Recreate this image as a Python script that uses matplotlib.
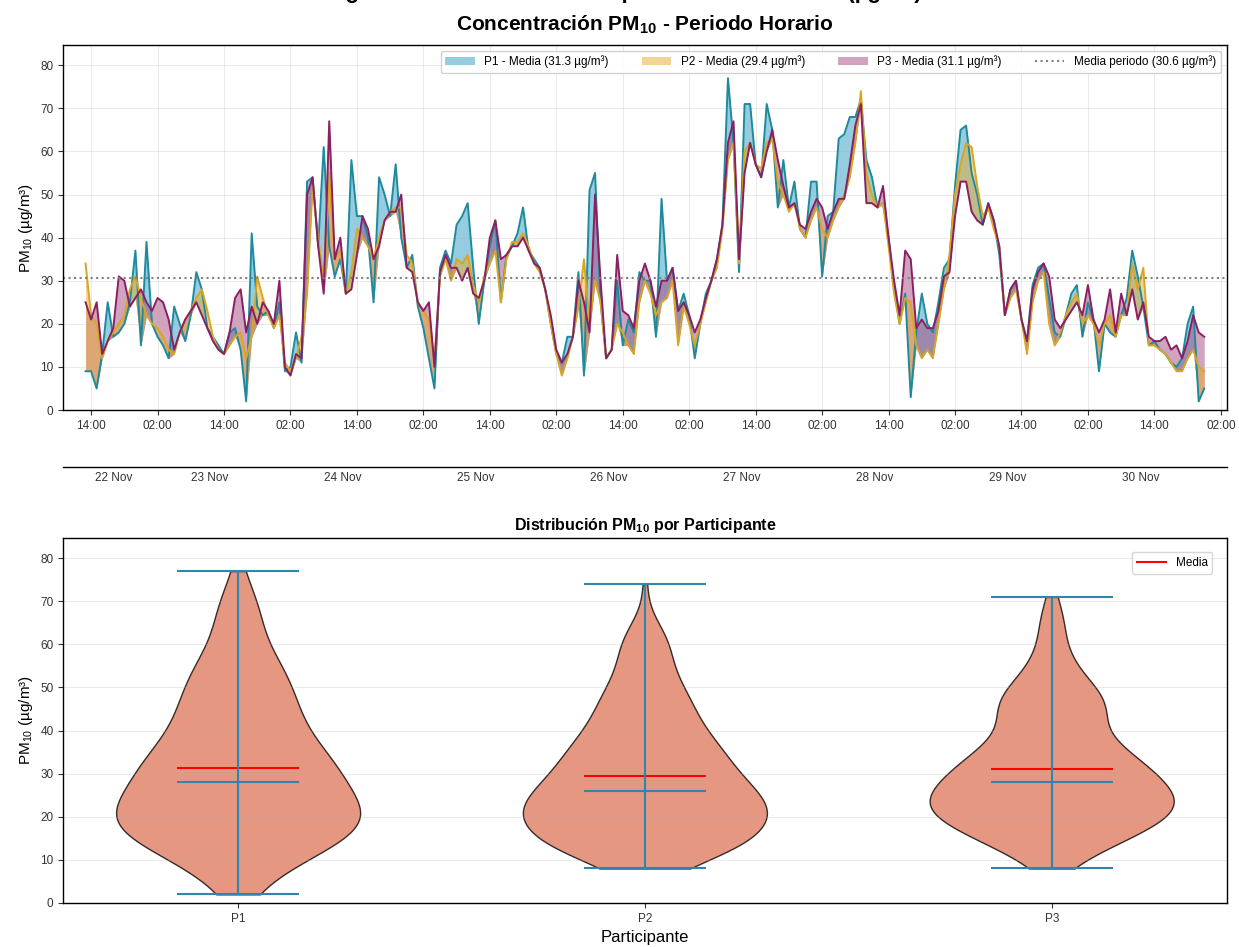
import numpy as np
import pandas as pd
import matplotlib
matplotlib.use('Agg')
import matplotlib.pyplot as plt
import matplotlib.dates as mdates
from matplotlib.patches import Patch
from matplotlib.lines import Line2D

# ---------------------- style ----------------------
plt.rcParams['font.family'] = ['Liberation Sans', 'DejaVu Sans']
plt.rcParams['mathtext.fontset'] = 'custom'
plt.rcParams['mathtext.rm'] = 'Liberation Sans'
plt.rcParams['mathtext.it'] = 'Liberation Sans:italic'
plt.rcParams['mathtext.bf'] = 'Liberation Sans:bold'
plt.rcParams['mathtext.default'] = 'regular'
plt.rcParams['axes.linewidth'] = 1.0

# ---------------------- data (hourly, from 22 Nov 13:00) ----------------------
START = '2023-11-22 13:00'
PARTICIPANTS = ['P1', 'P2', 'P3']

P1 = [9, 9, 5, 13, 25, 17, 18, 20, 25, 37, 15, 39,
      20, 17, 15, 12, 24, 20, 16, 22, 32, 28, 19, 17,
      15, 13, 18, 19, 14, 2, 41, 24, 22, 23, 19, 25,
      9, 10, 18, 11, 53, 54, 38, 61, 38, 31, 35, 27,
      58, 45, 45, 40, 25, 54, 50, 45, 57, 40, 33, 36,
      24, 19, 12, 5, 33, 37, 34, 43, 45, 48, 33, 20,
      30, 38, 44, 25, 36, 38, 41, 47, 37, 35, 33, 28,
      20, 13, 11, 17, 17, 32, 8, 51, 55, 25, 12, 14,
      30, 15, 21, 18, 32, 30, 30, 17, 49, 30, 33, 23,
      27, 22, 12, 20, 27, 30, 35, 43, 77, 62, 32, 71,
      71, 57, 54, 71, 65, 47, 58, 47, 53, 42, 40, 53,
      53, 31, 45, 46, 63, 64, 68, 68, 72, 58, 54, 47,
      48, 40, 28, 20, 27, 3, 18, 27, 20, 18, 25, 33,
      35, 52, 65, 66, 55, 50, 43, 48, 44, 36, 22, 28,
      30, 21, 16, 29, 33, 34, 26, 18, 17, 22, 27, 29,
      17, 25, 21, 9, 20, 18, 17, 22, 26, 37, 31, 24,
      15, 16, 14, 13, 11, 10, 12, 20, 24, 2, 5]

P2 = [34, 22, 20, 12, 16, 18, 20, 22, 28, 31, 26, 22,
      20, 19, 17, 14, 13, 18, 21, 23, 26, 28, 23, 17,
      14, 13, 15, 17, 18, 12, 17, 31, 26, 22, 19, 22,
      11, 9, 12, 17, 27, 52, 40, 30, 55, 35, 37, 27,
      32, 42, 40, 38, 35, 40, 44, 46, 47, 47, 36, 34,
      25, 23, 21, 12, 31, 35, 30, 35, 34, 36, 29, 25,
      31, 34, 37, 25, 35, 39, 39, 41, 38, 34, 32, 28,
      20, 13, 8, 12, 17, 24, 35, 20, 30, 25, 12, 14,
      20, 18, 15, 13, 25, 30, 27, 22, 25, 26, 30, 15,
      24, 20, 15, 20, 25, 30, 33, 42, 58, 62, 34, 60,
      62, 57, 56, 62, 63, 53, 50, 46, 48, 42, 40, 44,
      47, 42, 40, 44, 47, 50, 54, 62, 74, 55, 50, 47,
      48, 38, 27, 20, 26, 25, 15, 12, 14, 12, 20, 28,
      36, 50, 57, 62, 61, 52, 45, 47, 42, 38, 22, 26,
      28, 21, 13, 25, 30, 32, 20, 15, 18, 22, 25, 27,
      20, 22, 20, 15, 20, 22, 17, 22, 22, 34, 28, 33,
      15, 15, 14, 13, 11, 9, 9, 12, 14, 10, 9]

P3 = [25, 21, 25, 13, 16, 19, 31, 30, 24, 26, 28, 25,
      23, 26, 25, 21, 14, 18, 21, 23, 25, 22, 19, 16,
      14, 13, 18, 26, 28, 18, 24, 20, 25, 23, 20, 30,
      10, 8, 13, 12, 50, 54, 38, 27, 67, 35, 40, 27,
      28, 36, 45, 42, 35, 38, 44, 46, 46, 50, 33, 32,
      25, 23, 25, 10, 32, 36, 33, 33, 30, 33, 27, 26,
      30, 40, 44, 35, 36, 38, 38, 40, 37, 34, 33, 28,
      22, 14, 11, 13, 17, 30, 25, 18, 50, 30, 12, 14,
      36, 23, 22, 19, 30, 34, 30, 24, 30, 30, 33, 23,
      25, 22, 18, 21, 26, 30, 35, 43, 62, 67, 35, 55,
      62, 57, 54, 60, 65, 58, 52, 47, 48, 43, 42, 46,
      49, 47, 42, 46, 49, 49, 57, 66, 71, 48, 48, 47,
      52, 40, 30, 22, 37, 35, 19, 21, 19, 19, 23, 31,
      32, 45, 53, 53, 46, 44, 43, 48, 44, 38, 22, 28,
      30, 21, 16, 28, 32, 34, 31, 21, 19, 21, 23, 25,
      22, 29, 21, 18, 21, 28, 18, 27, 22, 28, 21, 25,
      17, 16, 16, 17, 14, 15, 12, 16, 22, 18, 17]

SUPTITLE = 'Registro de PM10 durante el periodo de muestreo (µg/m³)'

fill_colors = {'P1': '#2E9BC0', 'P2': '#EBAA2A', 'P3': '#A6487E'}
line_colors = {'P1': '#1E8A9E', 'P2': '#D8A623', 'P3': '#8A1F63'}
FILL_ORDER = ['P1', 'P3', 'P2']

t = pd.date_range(START, periods=len(P1), freq='h')
df = pd.DataFrame({'P1': P1, 'P2': P2, 'P3': P3}, index=t)
means = df.mean()
overall = df.values.mean()
ymax = df.values.max() * 1.1

fig = plt.figure(figsize=(12.39, 9.47), dpi=100)
ax1 = fig.add_axes([0.051, 0.567, 0.939, 0.3855])
ax2 = fig.add_axes([0.051, 0.0465, 0.939, 0.3855])

# overall title sits above the canvas (only descenders visible), as in the source image
fig.text(0.5, 1.0 + 1.5 / 947, SUPTITLE, ha='center', va='baseline',
         fontsize=16, fontweight='bold')

# ---------------------- time series ----------------------
lower = df.min(axis=1)
for p in FILL_ORDER:
    ax1.fill_between(t, lower, df[p], color=fill_colors[p], alpha=0.5, linewidth=0)
for p in PARTICIPANTS:
    ax1.plot(t, df[p], color=line_colors[p], linewidth=1.4)

handles = [Patch(facecolor=fill_colors[p], alpha=0.5,
                 label=f'{p} - Media ({means[p]:.1f} µg/m³)') for p in PARTICIPANTS]
ax1.axhline(overall, color='gray', linestyle=':', linewidth=1.5)
handles.append(Line2D([], [], color='gray', linestyle=':', linewidth=1.5,
                      label=f'Media periodo ({overall:.1f} µg/m³)'))

ax1.set_title('Concentración PM$_{10}$ - Periodo Horario', fontsize=15,
              fontweight='bold', pad=10)
ax1.set_ylabel('PM$_{10}$ (µg/m³)', fontsize=11)
ax1.set_ylim(0, ymax)
ax1.margins(x=0.02)
ax1.set_yticks(np.arange(0, 81, 10))
ax1.xaxis.set_major_locator(mdates.HourLocator(byhour=[2, 14]))
ax1.xaxis.set_major_formatter(mdates.DateFormatter('%H:%M'))
ax1.tick_params(labelsize=8.5, colors='#333333')
ax1.grid(True, alpha=0.3, linewidth=0.6)
ax1.legend(handles=handles, loc='upper right', ncol=4, fontsize=8.5,
           framealpha=0.9, handlelength=2.5, columnspacing=2.8)

# day labels on a second axis below
nums = mdates.date2num(t)
day_mid = pd.Series(nums).groupby(t.normalize()).mean()
sec = ax1.secondary_xaxis(-0.155)
sec.set_xticks(day_mid.values, labels=[d.strftime('%d %b') for d in day_mid.index])
sec.tick_params(length=0, labelsize=8.5, colors='#333333', pad=4)

# ---------------------- violins ----------------------
data = [df[p].values for p in PARTICIPANTS]
parts = ax2.violinplot(data, positions=[1, 2, 3], widths=0.6,
                       showmeans=True, showmedians=True, showextrema=True)
for pc in parts['bodies']:
    pc.set_facecolor('#E07A5F')
    pc.set_edgecolor('black')
    pc.set_alpha(0.78)
for key in ['cbars', 'cmins', 'cmaxes', 'cmedians']:
    parts[key].set_color('#2E86AB')
    parts[key].set_linewidth(1.5)
parts['cmeans'].set_color('red')
parts['cmeans'].set_linewidth(1.5)

ax2.set_xticks([1, 2, 3], PARTICIPANTS)
ax2.set_ylim(0, ymax)
ax2.set_yticks(np.arange(0, 81, 10))
ax2.set_title('Distribución PM$_{10}$ por Participante', fontsize=11.5,
              fontweight='bold', pad=6)
ax2.set_xlabel('Participante', fontsize=12)
ax2.set_ylabel('PM$_{10}$ (µg/m³)', fontsize=11)
ax2.tick_params(labelsize=8.5, colors='#333333')
ax2.grid(axis='y', alpha=0.3, linewidth=0.6)
ax2.legend(handles=[Line2D([], [], color='red', linewidth=1.5, label='Media')],
           loc='upper right', fontsize=8.5, handlelength=2.5, borderaxespad=1.2)

fig.savefig('out.png', dpi=100)
